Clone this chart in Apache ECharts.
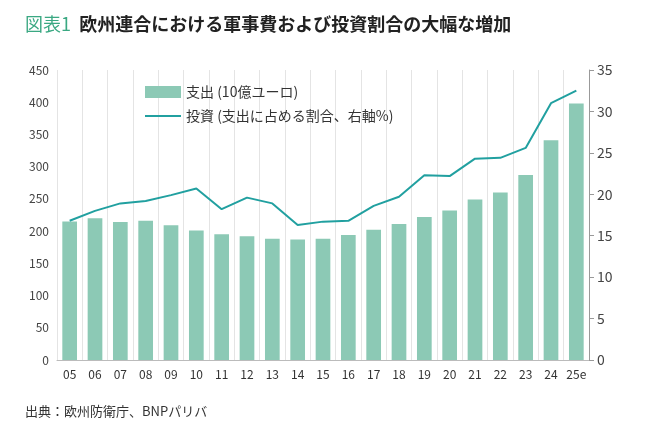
<!DOCTYPE html>
<html>
<head>
<meta charset="utf-8">
<script src="https://cdn.jsdelivr.net/npm/echarts@6/dist/echarts.min.js"></script>
<style>
html,body{margin:0;padding:0;background:#fff;}
#main{width:655px;height:432px;}
</style>
</head>
<body>
<div id="main"></div>
<script>
var years = ['05','06','07','08','09','10','11','12','13','14','15','16','17','18','19','20','21','22','23','24','25e'];
var spending = [215,220,214,216,209,201,195,192,188,187,188,194,202,211,222,232,249,260,287,341,398];
var investShare = [16.8,18.0,18.9,19.2,19.9,20.7,18.2,19.6,18.9,16.3,16.7,16.8,18.6,19.7,22.3,22.2,24.3,24.4,25.6,31.0,32.5];

var font = "'Noto Sans CJK JP', sans-serif";
var myChart = echarts.init(document.getElementById('main'));
var option = {
    backgroundColor: '#fff',
    textStyle: {fontFamily: font},
    title: [
        {
            text: '{g|図表1}  欧州連合における軍事費および投資割合の大幅な増加',
            left: 20, top: 10,
            textStyle: {
                fontSize: 18, fontWeight: 'bold', color: '#222', fontFamily: font,
                rich: {g: {fontSize: 18, color: '#3aa882', fontWeight: 'normal', fontFamily: font}}
            }
        },
        {
            text: '出典：欧州防衛庁、BNPパリバ',
            left: 20, top: 400,
            textStyle: {fontSize: 13, fontWeight: 'normal', color: '#333', fontFamily: font}
        }
    ],
    legend: {
        orient: 'vertical',
        left: 140, top: 80,
        itemGap: 10,
        itemWidth: 36, itemHeight: 12,
        textStyle: {fontSize: 14, color: '#333', fontFamily: font},
        data: [
            {name: '支出 (10億ユーロ)', icon: 'rect'},
            {name: '投資 (支出に占める割合、右軸%)', icon: 'path://M0,5L36,5L36,7L0,7Z'}
        ]
    },
    grid: {left: 57, right: 66, top: 70, bottom: 72},
    xAxis: {
        type: 'category',
        data: years,
        axisLine: {lineStyle: {color: '#bbb'}},
        axisTick: {show: false},
        axisLabel: {color: '#333', fontSize: 12, interval: 0},
        splitLine: {show: true, interval: 0, lineStyle: {color: '#e4e4e4'}}
    },
    yAxis: [
        {
            type: 'value', min: 0, max: 450, interval: 50,
            axisLine: {show: false}, axisTick: {show: false},
            axisLabel: {color: '#444', fontSize: 12},
            splitLine: {show: false}
        },
        {
            type: 'value', min: 0, max: 35, interval: 5,
            axisLine: {show: true, lineStyle: {color: '#999'}},
            axisTick: {show: true, inside: false, length: 5, lineStyle: {color: '#999'}},
            axisLabel: {color: '#444', fontSize: 14},
            splitLine: {show: false}
        }
    ],
    series: [
        {
            name: '支出 (10億ユーロ)',
            type: 'bar',
            barWidth: '58%',
            itemStyle: {color: '#8cc9b5'},
            data: spending
        },
        {
            name: '投資 (支出に占める割合、右軸%)',
            type: 'line',
            yAxisIndex: 1,
            symbol: 'none',
            lineStyle: {color: '#21a0a0', width: 2},
            itemStyle: {color: '#21a0a0'},
            data: investShare
        }
    ]
};
myChart.setOption(option);
</script>
</body>
</html>
